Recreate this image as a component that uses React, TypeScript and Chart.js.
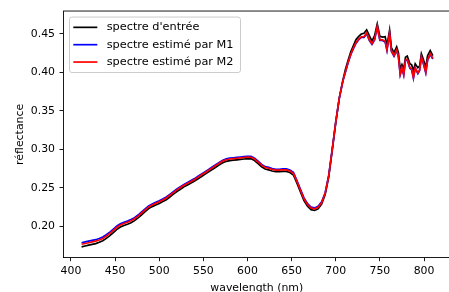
import React, { useEffect, useRef } from 'react';
import { Chart, registerables } from 'chart.js';

Chart.register(...registerables);

const wavelengths = [
  412, 416, 420, 424, 428, 432, 436, 440, 444, 448, 452, 456, 460, 464, 468, 472, 476, 480, 484, 488,
  492, 496, 500, 504, 508, 512, 516, 520, 524, 528, 532, 536, 540, 544, 548, 552, 556, 560, 564, 568,
  572, 576, 580, 584, 588, 592, 596, 600, 604, 608, 612, 616, 620, 624, 628, 632, 636, 640, 644, 648,
  652, 656, 660, 664, 668, 672, 676, 680, 684, 688, 692, 696, 700, 704, 708,
  711, 714, 717, 720, 723, 726, 729, 732, 735, 738, 741, 744, 747, 750, 753, 756, 758, 761, 763, 766,
  769, 771, 773, 775, 777, 779, 781, 784, 786, 788, 790, 793, 795, 797, 799, 802, 804, 807, 810,
];

const inputSpectrum = [
  0.1737, 0.1748, 0.1758, 0.1768, 0.1779, 0.1795, 0.1815, 0.1846, 0.1882, 0.1922, 0.1963, 0.1994, 0.2014, 0.2030, 0.2050, 0.2076, 0.2111, 0.2152, 0.2192, 0.2232,
  0.2258, 0.2278, 0.2298, 0.2323, 0.2348, 0.2383, 0.2419, 0.2454, 0.2484, 0.2514, 0.2539, 0.2564, 0.2589, 0.2619, 0.2649, 0.2679, 0.2709, 0.2739, 0.2769, 0.2799,
  0.2827, 0.2845, 0.2855, 0.2860, 0.2865, 0.2870, 0.2875, 0.2880, 0.2878, 0.2855, 0.2815, 0.2775, 0.2745, 0.2735, 0.2720, 0.2710, 0.2710, 0.2715, 0.2715, 0.2700,
  0.2668, 0.2562, 0.2447, 0.2337, 0.2262, 0.2218, 0.2208, 0.2228, 0.2290, 0.2414, 0.2640, 0.2988, 0.3348, 0.3665, 0.3895,
  0.4040, 0.4155, 0.4265, 0.4345, 0.4425, 0.4465, 0.4495, 0.4505, 0.4550, 0.4475, 0.4405, 0.4475, 0.4625, 0.4465, 0.4455, 0.4460, 0.4340, 0.4545, 0.4320, 0.4255,
  0.4330, 0.4255, 0.4040, 0.4100, 0.4040, 0.4195, 0.4210, 0.4110, 0.4095, 0.4020, 0.4110, 0.4060, 0.4080, 0.4240, 0.4175, 0.4060, 0.4215, 0.4280, 0.4215,
];

const estimatedM1 = [
  0.1790, 0.1800, 0.1810, 0.1820, 0.1829, 0.1844, 0.1864, 0.1893, 0.1928, 0.1967, 0.2007, 0.2036, 0.2056, 0.2070, 0.2090, 0.2115, 0.2149, 0.2189, 0.2229, 0.2268,
  0.2293, 0.2313, 0.2333, 0.2357, 0.2382, 0.2417, 0.2452, 0.2487, 0.2516, 0.2546, 0.2571, 0.2596, 0.2621, 0.2651, 0.2681, 0.2711, 0.2741, 0.2771, 0.2801, 0.2831,
  0.2859, 0.2876, 0.2886, 0.2891, 0.2896, 0.2901, 0.2906, 0.2911, 0.2909, 0.2886, 0.2846, 0.2806, 0.2776, 0.2766, 0.2751, 0.2741, 0.2741, 0.2746, 0.2746, 0.2731,
  0.2701, 0.2596, 0.2481, 0.2371, 0.2296, 0.2251, 0.2241, 0.2261, 0.2320, 0.2438, 0.2662, 0.3005, 0.3358, 0.3665, 0.3882,
  0.4002, 0.4122, 0.4227, 0.4307, 0.4377, 0.4422, 0.4452, 0.4452, 0.4500, 0.4412, 0.4362, 0.4420, 0.4585, 0.4412, 0.4412, 0.4392, 0.4282, 0.4500, 0.4272, 0.4207,
  0.4282, 0.4197, 0.3967, 0.4052, 0.3962, 0.4152, 0.4162, 0.4052, 0.4032, 0.3922, 0.4052, 0.3982, 0.4022, 0.4190, 0.4122, 0.3992, 0.4152, 0.4232, 0.4172,
];

const estimatedM2 = [
  0.1770, 0.1780, 0.1790, 0.1800, 0.1810, 0.1825, 0.1845, 0.1875, 0.1910, 0.1950, 0.1990, 0.2020, 0.2040, 0.2055, 0.2075, 0.2100, 0.2135, 0.2175, 0.2215, 0.2255,
  0.2280, 0.2300, 0.2320, 0.2345, 0.2370, 0.2405, 0.2440, 0.2475, 0.2505, 0.2535, 0.2560, 0.2585, 0.2610, 0.2640, 0.2670, 0.2700, 0.2730, 0.2760, 0.2790, 0.2820,
  0.2848, 0.2865, 0.2875, 0.2880, 0.2885, 0.2890, 0.2895, 0.2900, 0.2898, 0.2875, 0.2835, 0.2795, 0.2765, 0.2755, 0.2740, 0.2730, 0.2730, 0.2735, 0.2735, 0.2720,
  0.2690, 0.2585, 0.2470, 0.2360, 0.2285, 0.2240, 0.2230, 0.2250, 0.2310, 0.2430, 0.2655, 0.3000, 0.3355, 0.3665, 0.3885,
  0.4010, 0.4130, 0.4235, 0.4315, 0.4385, 0.4430, 0.4460, 0.4460, 0.4510, 0.4420, 0.4370, 0.4430, 0.4595, 0.4420, 0.4420, 0.4400, 0.4290, 0.4510, 0.4280, 0.4215,
  0.4290, 0.4205, 0.3975, 0.4060, 0.3970, 0.4160, 0.4170, 0.4060, 0.4040, 0.3930, 0.4060, 0.3990, 0.4030, 0.4200, 0.4130, 0.4000, 0.4160, 0.4240, 0.4180,
];

const xTicks = [400, 450, 500, 550, 600, 650, 700, 750, 800];
const yTicks = [0.2, 0.25, 0.3, 0.35, 0.4, 0.45];

const seriesLabels = ["spectre d'entrée", 'spectre estimé par M1', 'spectre estimé par M2'];
const seriesColors = ['#000000', '#0000ff', '#ff0000'];

const xTitle = 'wavelength (nm)';
const yTitle = 'réflectance';

const FONT = "'DejaVu Sans', sans-serif";

const frameLegendPlugin = {
  id: 'frameLegend',
  afterDraw(chart: any) {
    const { ctx, chartArea } = chart;
    ctx.save();
    // top spine
    ctx.strokeStyle = '#000';
    ctx.lineWidth = 0.9;
    ctx.beginPath();
    ctx.moveTo(chartArea.left, chartArea.top);
    ctx.lineTo(chartArea.right, chartArea.top);
    ctx.stroke();

    // legend box
    const bx = chartArea.left + 6.5;
    const by = chartArea.top + 6;
    const bw = 171;
    const bh = 55.5;
    const r = 2.5;
    ctx.beginPath();
    ctx.moveTo(bx + r, by);
    ctx.lineTo(bx + bw - r, by);
    ctx.arcTo(bx + bw, by, bx + bw, by + r, r);
    ctx.lineTo(bx + bw, by + bh - r);
    ctx.arcTo(bx + bw, by + bh, bx + bw - r, by + bh, r);
    ctx.lineTo(bx + r, by + bh);
    ctx.arcTo(bx, by + bh, bx, by + bh - r, r);
    ctx.lineTo(bx, by + r);
    ctx.arcTo(bx, by, bx + r, by, r);
    ctx.closePath();
    ctx.fillStyle = 'rgba(255,255,255,0.8)';
    ctx.fill();
    ctx.strokeStyle = '#cccccc';
    ctx.lineWidth = 1;
    ctx.stroke();

    ctx.font = `11.3px ${FONT}`;
    ctx.textBaseline = 'middle';
    ctx.textAlign = 'left';
    seriesLabels.forEach((label, i) => {
      const y = by + 10.3 + i * 17.35;
      ctx.strokeStyle = seriesColors[i];
      ctx.lineWidth = 1.7;
      ctx.beginPath();
      ctx.moveTo(bx + 3.8, y);
      ctx.lineTo(bx + 27.8, y);
      ctx.stroke();
      ctx.fillStyle = '#000';
      ctx.fillText(label, bx + 37.2, y);
    });
    ctx.restore();
  },
};

export default function App() {
  const canvasRef = useRef<HTMLCanvasElement | null>(null);

  useEffect(() => {
    const canvas = canvasRef.current;
    if (!canvas) return;
    const series = [inputSpectrum, estimatedM1, estimatedM2];
    const orders = [3, 2, 1];
    const chart = new Chart(canvas, {
      type: 'line',
      data: {
        datasets: series.map((vals, i) => ({
          label: seriesLabels[i],
          data: wavelengths.map((w, j) => ({ x: w, y: vals[j] })),
          borderColor: seriesColors[i],
          backgroundColor: seriesColors[i],
          borderWidth: 1.7,
          pointRadius: 0,
          tension: 0,
          fill: false,
          order: orders[i],
        })),
      },
      options: {
        responsive: false,
        animation: false,
        devicePixelRatio: 1,
        layout: { padding: { top: 7, right: 5.5, left: 0, bottom: 0 } },
        plugins: { legend: { display: false }, tooltip: { enabled: false } },
        scales: {
          x: {
            type: 'linear',
            min: 390.94,
            max: 830,
            afterBuildTicks: (scale: any) => {
              scale.ticks = xTicks.map((v) => ({ value: v }));
            },
            afterFit: (scale: any) => {
              scale.height = 34.3;
            },
            grid: {
              drawOnChartArea: false,
              drawTicks: true,
              tickLength: 3.5,
              tickWidth: 0.9,
              tickColor: '#000',
            },
            border: { display: true, color: '#000', width: 0.9 },
            ticks: {
              color: '#000',
              font: { family: FONT, size: 10.9 },
              padding: 3.3,
              maxRotation: 0,
              autoSkip: false,
              callback: (v: any) => String(v),
            },
            title: {
              display: true,
              text: xTitle,
              color: '#000',
              font: { family: FONT, size: 10.9 },
              padding: { top: 0, bottom: -2.6 },
            },
          },
          y: {
            type: 'linear',
            min: 0.15957,
            max: 0.47934,
            afterBuildTicks: (scale: any) => {
              scale.ticks = yTicks.map((v) => ({ value: v }));
            },
            afterFit: (scale: any) => {
              scale.width = 63;
            },
            grid: {
              drawOnChartArea: false,
              drawTicks: true,
              tickLength: 3.5,
              tickWidth: 0.9,
              tickColor: '#000',
            },
            border: { display: true, color: '#000', width: 0.9 },
            ticks: {
              color: '#000',
              font: { family: FONT, size: 10.9 },
              padding: 4.5,
              autoSkip: false,
              callback: (v: any) => Number(v).toFixed(2),
            },
            title: {
              display: true,
              text: yTitle,
              color: '#000',
              font: { family: FONT, size: 10.9 },
              padding: { top: 13.7, bottom: 0 },
            },
          },
        },
      },
      plugins: [frameLegendPlugin],
    });
    return () => chart.destroy();
  }, []);

  return (
    <div
      style={{
        position: 'fixed',
        left: 0,
        top: 0,
        width: 449,
        height: 292,
        overflow: 'hidden',
        background: '#fff',
      }}
    >
      <canvas ref={canvasRef} width={456} height={292} style={{ display: 'block' }} />
    </div>
  );
}
